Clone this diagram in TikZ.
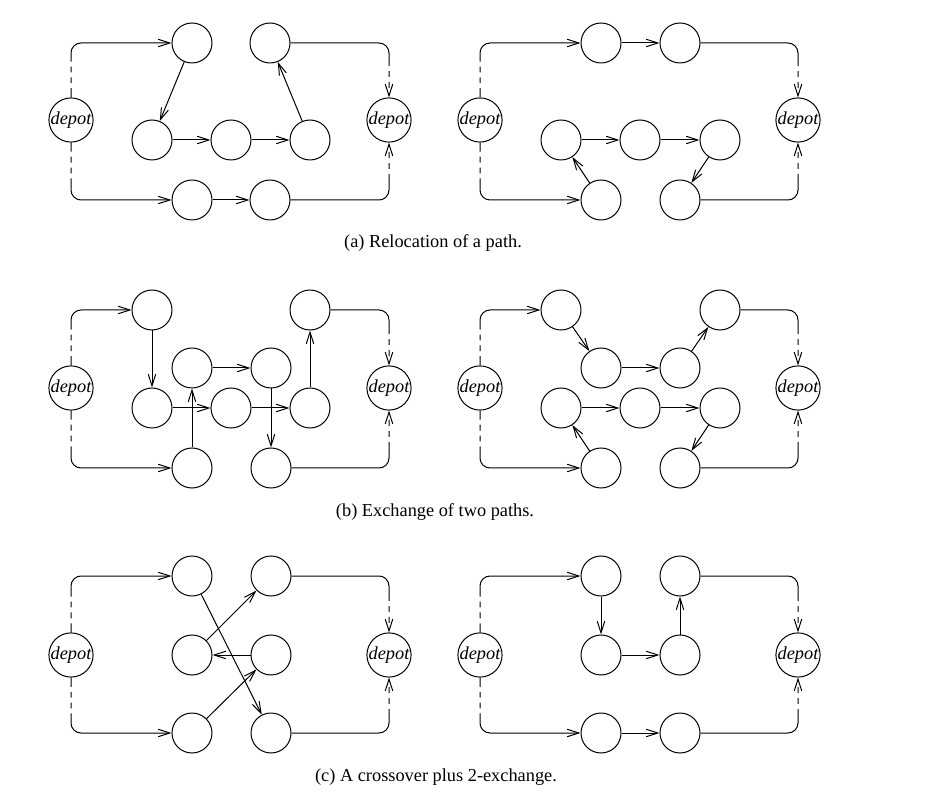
\documentclass[tikz,border=0pt]{standalone}
\usepackage{fontspec}
\setmainfont{Liberation Serif}
\usetikzlibrary{arrows.meta}

\begin{document}
\begin{tikzpicture}[x=0.6pt, y=-0.6pt, line width=0.6pt,
  >={Straight Barb[length=7pt, width=4.5pt]},
  cust/.style={circle, draw, minimum size=24pt, inner sep=0pt},
  depot/.style={circle, draw, minimum size=26.5pt, inner sep=0pt,
    font=\fontsize{11}{12}\selectfont\itshape},
  routeout/.style={rounded corners=6pt,
    dash pattern=on 5.5pt off 3pt on 3.5pt off 3pt on 3.5pt off 3pt on 400pt},
  routein/.style={rounded corners=6pt,
    dash pattern=on 1.5pt off 3pt on 3.5pt off 3pt on 3.5pt off 3pt on 400pt},
  caption/.style={font=\fontsize{11}{13}\selectfont}]

  \useasboundingbox (0,0) rectangle (931,795);

  % (a) left: relocation, before
  \node[depot] (a1dl) at (71,120) {depot};
  \node[depot] (a1dr) at (389,120) {depot};
  \node[cust] (a1t1) at (192,43) {};
  \node[cust] (a1t2) at (270,43) {};
  \node[cust] (a1m1) at (152,140) {};
  \node[cust] (a1m2) at (231,140) {};
  \node[cust] (a1m3) at (310,140) {};
  \node[cust] (a1b1) at (192,200) {};
  \node[cust] (a1b2) at (270,200) {};
  \draw[routeout, ->] (a1dl.north) |- (a1t1);
  \draw[->] (a1t1) -- (a1m1);
  \draw[->] (a1m1) -- (a1m2);
  \draw[->] (a1m2) -- (a1m3);
  \draw[->] (a1m3) -- (a1t2);
  \draw[routein, <-] (a1dr.north) |- (a1t2);
  \draw[routeout, ->] (a1dl.south) |- (a1b1);
  \draw[->] (a1b1) -- (a1b2);
  \draw[routein, <-] (a1dr.south) |- (a1b2);

  % (a) right: relocation, after
  \node[depot] (a2dl) at (480,120) {depot};
  \node[depot] (a2dr) at (798,120) {depot};
  \node[cust] (a2t1) at (601,43) {};
  \node[cust] (a2t2) at (680,43) {};
  \node[cust] (a2m1) at (561,140) {};
  \node[cust] (a2m2) at (640,140) {};
  \node[cust] (a2m3) at (720,140) {};
  \node[cust] (a2b1) at (601,200) {};
  \node[cust] (a2b2) at (680,200) {};
  \draw[routeout, ->] (a2dl.north) |- (a2t1);
  \draw[->] (a2t1) -- (a2t2);
  \draw[routein, <-] (a2dr.north) |- (a2t2);
  \draw[routeout, ->] (a2dl.south) |- (a2b1);
  \draw[->] (a2b1) -- (a2m1);
  \draw[->] (a2m1) -- (a2m2);
  \draw[->] (a2m2) -- (a2m3);
  \draw[->] (a2m3) -- (a2b2);
  \draw[routein, <-] (a2dr.south) |- (a2b2);

  \node[caption] (capa) at (433,243) {(a) Relocation of a path.};

  % (b) left: exchange, before
  \node[depot] (b1dl) at (71,388) {depot};
  \node[depot] (b1dr) at (389,388) {depot};
  \node[cust] (b1t1) at (152,310) {};
  \node[cust] (b1t2) at (310,310) {};
  \node[cust] (b1u1) at (192,368) {};
  \node[cust] (b1u2) at (271,368) {};
  \node[cust] (b1m1) at (152,408) {};
  \node[cust] (b1m2) at (231,408) {};
  \node[cust] (b1m3) at (310,408) {};
  \node[cust] (b1b1) at (192,468) {};
  \node[cust] (b1b2) at (271,468) {};
  \draw[routeout, ->] (b1dl.north) |- (b1t1);
  \draw[->] (b1t1) -- (b1m1);
  \draw[->] (b1m1) -- (b1m2);
  \draw[->] (b1m2) -- (b1m3);
  \draw[->] (b1m3) -- (b1t2);
  \draw[routein, <-] (b1dr.north) |- (b1t2);
  \draw[routeout, ->] (b1dl.south) |- (b1b1);
  \draw[->] (b1b1) -- (b1u1);
  \draw[->] (b1u1) -- (b1u2);
  \draw[->] (b1u2) -- (b1b2);
  \draw[routein, <-] (b1dr.south) |- (b1b2);

  % (b) right: exchange, after
  \node[depot] (b2dl) at (480,388) {depot};
  \node[depot] (b2dr) at (798,388) {depot};
  \node[cust] (b2t1) at (561,310) {};
  \node[cust] (b2t2) at (720,310) {};
  \node[cust] (b2u1) at (601,368) {};
  \node[cust] (b2u2) at (680,368) {};
  \node[cust] (b2m1) at (561,408) {};
  \node[cust] (b2m2) at (640,408) {};
  \node[cust] (b2m3) at (720,408) {};
  \node[cust] (b2b1) at (601,468) {};
  \node[cust] (b2b2) at (680,468) {};
  \draw[routeout, ->] (b2dl.north) |- (b2t1);
  \draw[->] (b2t1) -- (b2u1);
  \draw[->] (b2u1) -- (b2u2);
  \draw[->] (b2u2) -- (b2t2);
  \draw[routein, <-] (b2dr.north) |- (b2t2);
  \draw[routeout, ->] (b2dl.south) |- (b2b1);
  \draw[->] (b2b1) -- (b2m1);
  \draw[->] (b2m1) -- (b2m2);
  \draw[->] (b2m2) -- (b2m3);
  \draw[->] (b2m3) -- (b2b2);
  \draw[routein, <-] (b2dr.south) |- (b2b2);

  \node[caption] (capb) at (435,512) {(b) Exchange of two paths.};

  % (c) left: crossover plus 2-exchange, before
  \node[depot] (c1dl) at (71,655) {depot};
  \node[depot] (c1dr) at (389,655) {depot};
  \node[cust] (c1t1) at (192,576) {};
  \node[cust] (c1t2) at (271,576) {};
  \node[cust] (c1m1) at (192,655) {};
  \node[cust] (c1m2) at (271,655) {};
  \node[cust] (c1b1) at (192,733) {};
  \node[cust] (c1b2) at (271,733) {};
  \draw[routeout, ->] (c1dl.north) |- (c1t1);
  \draw[->] (c1t1) -- (c1b2);
  \draw[routein, <-] (c1dr.south) |- (c1b2);
  \draw[routeout, ->] (c1dl.south) |- (c1b1);
  \draw[->] (c1b1) -- (c1m2);
  \draw[->] (c1m2) -- (c1m1);
  \draw[->] (c1m1) -- (c1t2);
  \draw[routein, <-] (c1dr.north) |- (c1t2);

  % (c) right: crossover plus 2-exchange, after
  \node[depot] (c2dl) at (480,655) {depot};
  \node[depot] (c2dr) at (798,655) {depot};
  \node[cust] (c2t1) at (601,576) {};
  \node[cust] (c2t2) at (680,576) {};
  \node[cust] (c2m1) at (601,655) {};
  \node[cust] (c2m2) at (680,655) {};
  \node[cust] (c2b1) at (601,733) {};
  \node[cust] (c2b2) at (680,733) {};
  \draw[routeout, ->] (c2dl.north) |- (c2t1);
  \draw[->] (c2t1) -- (c2m1);
  \draw[->] (c2m1) -- (c2m2);
  \draw[->] (c2m2) -- (c2t2);
  \draw[routein, <-] (c2dr.north) |- (c2t2);
  \draw[routeout, ->] (c2dl.south) |- (c2b1);
  \draw[->] (c2b1) -- (c2b2);
  \draw[routein, <-] (c2dr.south) |- (c2b2);

  \node[caption] (capc) at (436,777) {(c) A crossover plus 2-exchange.};

\end{tikzpicture}
\end{document}
